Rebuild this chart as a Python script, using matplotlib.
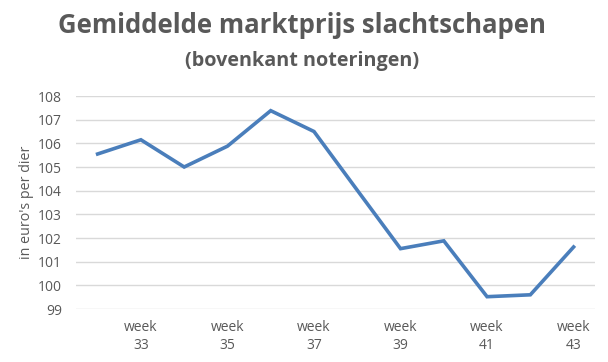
import matplotlib
matplotlib.use("Agg")
import matplotlib.pyplot as plt

weeks = [32, 33, 34, 35, 36, 37, 38, 39, 40, 41, 42, 43]
prices = [105.55, 106.15, 105.0, 105.88, 107.38, 106.5, 104.02, 101.55, 101.88, 99.52, 99.6, 101.62]
yticks = [99, 100, 101, 102, 103, 104, 105, 106, 107, 108]
title = "Gemiddelde marktprijs slachtschapen"
subtitle = "(bovenkant noteringen)"
ylabel = "in euro's per dier"

plt.rcParams['font.family'] = ['Open Sans', 'DejaVu Sans']
gray = '#595959'

fig = plt.figure(figsize=(6.08, 3.62), dpi=100)
ax = fig.add_axes([0.125, 0.1464, 0.854, 0.5884])
x = list(range(len(weeks)))
ax.plot(x, prices, color='#4A7EBB', lw=2.6, solid_joinstyle='miter')
ax.set_xlim(-0.5, len(weeks) - 0.5)
ax.set_ylim(99, 108)
ax.set_yticks(yticks)
ax.set_yticklabels([str(v) for v in yticks], color=gray, fontsize=10)
ax.grid(axis='y', color='#D9D9D9', lw=1)
ax.set_axisbelow(True)
for s in ax.spines.values():
    s.set_visible(False)
ax.tick_params(axis='both', length=0)
ax.tick_params(axis='y', pad=10)
ax.tick_params(axis='x', pad=8)
xt = [i for i, w in enumerate(weeks) if w % 2 == 1]
ax.set_xticks(xt)
ax.set_xticklabels([f"week\n{weeks[i]}" for i in xt], color=gray, fontsize=10, linespacing=1.3)
ax.set_ylabel(ylabel, color=gray, fontsize=10.3, labelpad=3)

fig.text(0.497, 0.93, title, ha='center', va='center', fontsize=18.5, fontweight='bold', color=gray)
fig.text(0.497, 0.832, subtitle, ha='center', va='center', fontsize=14.2, fontweight='bold', color=gray)

fig.savefig('out.png', dpi=100)
